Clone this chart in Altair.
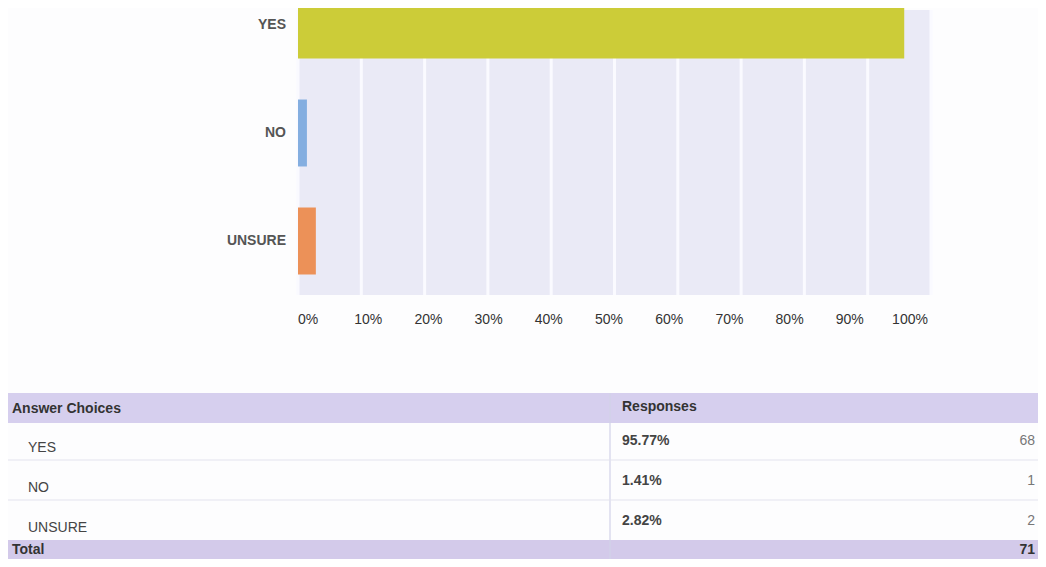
import altair as alt
import pandas as pd

# ---- data ----
choices = ["YES", "NO", "UNSURE"]
percents = [95.77, 1.41, 2.82]
counts = [68, 1, 2]
total_count = 71
bar_colors = ["#cccc38", "#84aee0", "#ec9158"]
ticks = [0, 10, 20, 30, 40, 50, 60, 70, 80, 90, 100]

FONT = "Liberation Sans"
W, H = 1030, 551

bars_df = pd.DataFrame({"choice": choices, "pct": percents})
ticks_df = pd.DataFrame({"tick": ticks, "label": [f"{t}%" for t in ticks]})
rows_df = pd.DataFrame({
    "choice": choices,
    "row": [1, 2, 3],
    "pct_label": [f"{p:.2f}%" for p in percents],
    "count": [str(c) for c in counts],
})
sep_df = pd.DataFrame({"row": [1.5, 2.5]})
one = pd.DataFrame({"k": [0]})

# ---------- bar chart group ----------
xs = alt.Scale(domain=[0, 100], range=[290, 923])
ys = alt.Scale(domain=choices, range=[-37, 287], paddingInner=0.38, paddingOuter=0.19)

bg = alt.Chart(one).mark_rect(color="#eaeaf6").encode(
    x=alt.X(datum=0, scale=xs, axis=None),
    x2=alt.X2(datum=100),
    y=alt.value(2),
    y2=alt.value(287),
)
grid = alt.Chart(ticks_df).mark_rule(color="#fafaff", strokeWidth=3).encode(
    x=alt.X("tick:Q", scale=xs, axis=None),
    y=alt.value(2),
    y2=alt.value(287),
)
bars = alt.Chart(bars_df).mark_bar(clip=True).encode(
    x=alt.X("pct:Q", scale=xs, axis=None),
    x2=alt.X2(datum=0),
    y=alt.Y("choice:N", scale=ys, axis=None, sort=choices),
    color=alt.Color("choice:N", scale=alt.Scale(domain=choices, range=bar_colors), legend=None),
)
cat_labels = alt.Chart(bars_df).mark_text(
    align="right", baseline="middle", dx=-12, font=FONT, fontSize=14,
    fontWeight="bold", color="#555555"
).encode(
    x=alt.X(datum=0, scale=xs, axis=None),
    y=alt.Y("choice:N", scale=ys, axis=None, sort=choices),
    text="choice:N",
)
bar_group = alt.layer(bg, grid, bars, cat_labels)

# ---------- x tick labels ----------
tick_labels = alt.Chart(ticks_df).mark_text(
    align="center", baseline="middle", font=FONT, fontSize=14, color="#333333"
).encode(
    x=alt.X("tick:Q", scale=alt.Scale(domain=[0, 100], range=[300, 902]), axis=None),
    y=alt.value(312),
    text="label:N",
)

# ---------- table group ----------
ty = alt.Scale(domain=[0, 4], range=[392, 552])
band_color = "#d6cfee"

header_band = alt.Chart(one).mark_rect(color=band_color).encode(
    x=alt.value(0), x2=alt.value(W), y=alt.value(385), y2=alt.value(415)
)
total_band = alt.Chart(one).mark_rect(color="#d3caea").encode(
    x=alt.value(0), x2=alt.value(W), y=alt.value(532), y2=alt.value(H)
)
divider = alt.Chart(one).mark_rule(color="#d2d2e8", strokeWidth=1.2).encode(
    x=alt.value(602), y=alt.value(385), y2=alt.value(H)
)
seps = alt.Chart(sep_df).mark_rule(color="#e3e3ee", strokeWidth=1.2).encode(
    x=alt.value(0), x2=alt.value(W),
    y=alt.Y("row:Q", scale=ty, axis=None),
)
head_df = pd.DataFrame({"row": [0, 0], "txt": ["Answer Choices", "Responses"]})
head_left = alt.Chart(head_df).transform_filter("datum.txt == 'Answer Choices'").mark_text(
    align="left", baseline="middle", font=FONT, fontSize=14, fontWeight="bold",
    color="#333333", dy=9
).encode(
    x=alt.value(4), y=alt.Y("row:Q", scale=ty, axis=None), text="txt:N"
)
head_resp = alt.Chart(head_df).transform_filter("datum.txt == 'Responses'").mark_text(
    align="left", baseline="middle", font=FONT, fontSize=14, fontWeight="bold",
    color="#333333", dy=7
).encode(
    x=alt.value(614), y=alt.Y("row:Q", scale=ty, axis=None), text="txt:N"
)
choice_txt = alt.Chart(rows_df).mark_text(
    align="left", baseline="middle", font=FONT, fontSize=14, color="#444444", dy=8
).encode(
    x=alt.value(20), y=alt.Y("row:Q", scale=ty, axis=None), text="choice:N"
)
pct_txt = alt.Chart(rows_df).mark_text(
    align="left", baseline="middle", font=FONT, fontSize=14, fontWeight="bold",
    color="#444444", dy=1
).encode(
    x=alt.value(614), y=alt.Y("row:Q", scale=ty, axis=None), text="pct_label:N"
)
count_txt = alt.Chart(rows_df).mark_text(
    align="right", baseline="middle", font=FONT, fontSize=14, color="#777777", dy=1
).encode(
    x=alt.value(1027), y=alt.Y("row:Q", scale=ty, axis=None), text="count:N"
)
total_df = pd.DataFrame({"row": [4, 4], "txt": ["Total", str(total_count)]})
total_lbl = alt.Chart(total_df).transform_filter("datum.txt == 'Total'").mark_text(
    align="left", baseline="middle", font=FONT, fontSize=14, fontWeight="bold",
    color="#333333", dy=-10
).encode(
    x=alt.value(4), y=alt.Y("row:Q", scale=ty, axis=None), text="txt:N"
)
total_txt = alt.Chart(total_df).transform_filter("datum.txt != 'Total'").mark_text(
    align="right", baseline="middle", font=FONT, fontSize=14, fontWeight="bold",
    color="#333333", dy=-10
).encode(
    x=alt.value(1027), y=alt.Y("row:Q", scale=ty, axis=None), text="txt:N"
)
table_group = alt.layer(header_band, total_band, divider, seps, head_left, head_resp,
                        choice_txt, pct_txt, count_txt, total_lbl, total_txt)

chart = alt.layer(bar_group, tick_labels, table_group).resolve_scale(
    x="independent", y="independent", color="independent"
).properties(
    width=W, height=H, padding=0, autosize=alt.AutoSizeParams(type="none"),
    background="#fdfdfe",
).configure_view(stroke=None)

chart.save("out.html", embed_options={"renderer": "svg", "actions": False})
